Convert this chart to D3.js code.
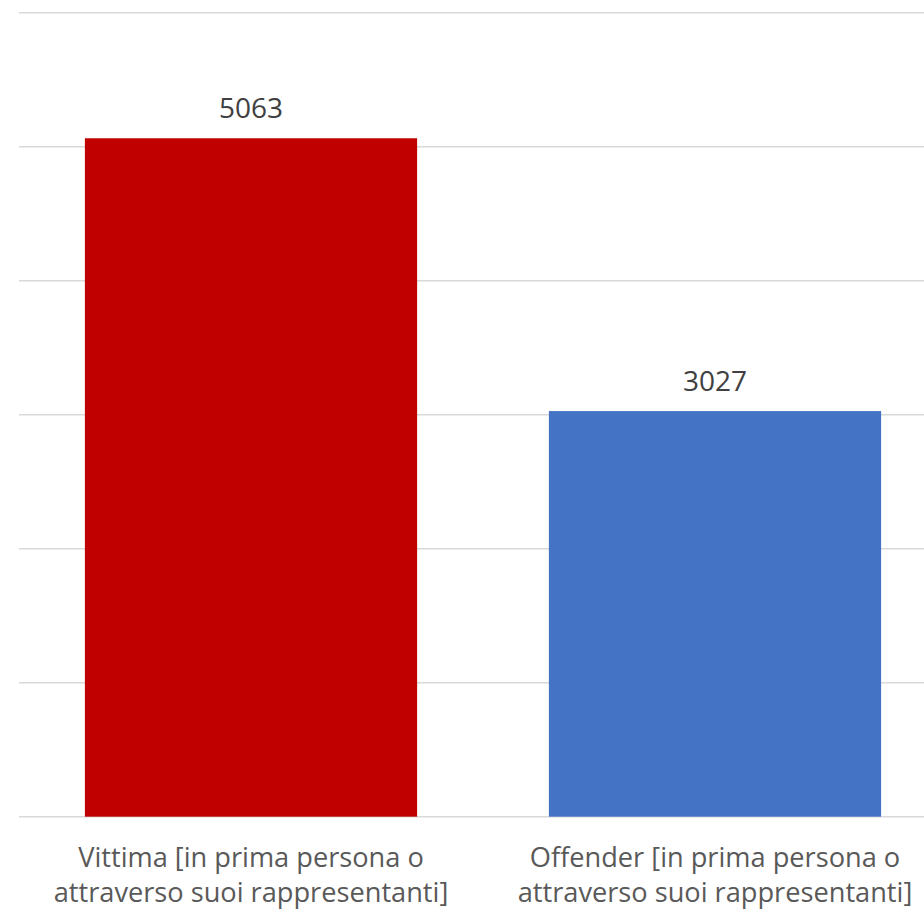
<!DOCTYPE html>
<html>
<head>
<meta charset="utf-8">
<script src="https://cdn.jsdelivr.net/npm/d3@7"></script>
<style>
html,body{margin:0;padding:0;background:#fff;}
svg{display:block;}
</style>
</head>
<body>
<svg id="chart" width="924" height="913"></svg>
<script>
const categories = [
  ["Vittima [in prima persona o", "attraverso suoi rappresentanti]"],
  ["Offender [in prima persona o", "attraverso suoi rappresentanti]"]
];
const values = [5063, 3027];
const colors = ["#C00000", "#4472C4"];
const yTicks = [0, 1000, 2000, 3000, 4000, 5000, 6000];

const svg = d3.select("#chart");
const x0 = 19, x1 = 947, yTop = 12.7, yBase = 816.7;

const x = d3.scaleBand().domain(d3.range(values.length)).range([x0, x1]).paddingInner(0.284).paddingOuter(0.142);
const y = d3.scaleLinear().domain([0, 6000]).range([yBase, yTop]);

svg.append("g").selectAll("line").data(yTicks).join("line")
  .attr("x1", x0).attr("x2", 924)
  .attr("y1", d => y(d)).attr("y2", d => y(d))
  .attr("stroke", "#d9d9d9").attr("stroke-width", 1.5);

svg.append("g").selectAll("rect").data(values).join("rect")
  .attr("x", (d, i) => x(i)).attr("width", x.bandwidth())
  .attr("y", d => y(d)).attr("height", d => y(0) - y(d))
  .attr("fill", (d, i) => colors[i]);

svg.append("g").selectAll("text").data(values).join("text")
  .attr("x", (d, i) => x(i) + x.bandwidth() / 2)
  .attr("y", d => y(d) - 20)
  .attr("text-anchor", "middle")
  .attr("font-family", "'Open Sans', sans-serif")
  .attr("font-size", 28)
  .attr("fill", "#404040")
  .text(d => d);

const lab = svg.append("g").selectAll("text").data(categories).join("text")
  .attr("x", (d, i) => x(i) + x.bandwidth() / 2)
  .attr("y", 867)
  .attr("text-anchor", "middle")
  .attr("font-family", "'Open Sans', sans-serif")
  .attr("font-size", 27.2)
  .attr("fill", "#595959");
lab.selectAll("tspan").data(d => d).join("tspan")
  .attr("x", function() { return d3.select(this.parentNode).attr("x"); })
  .attr("dy", (d, i) => i === 0 ? 0 : 35)
  .text(d => d);
</script>
</body>
</html>
